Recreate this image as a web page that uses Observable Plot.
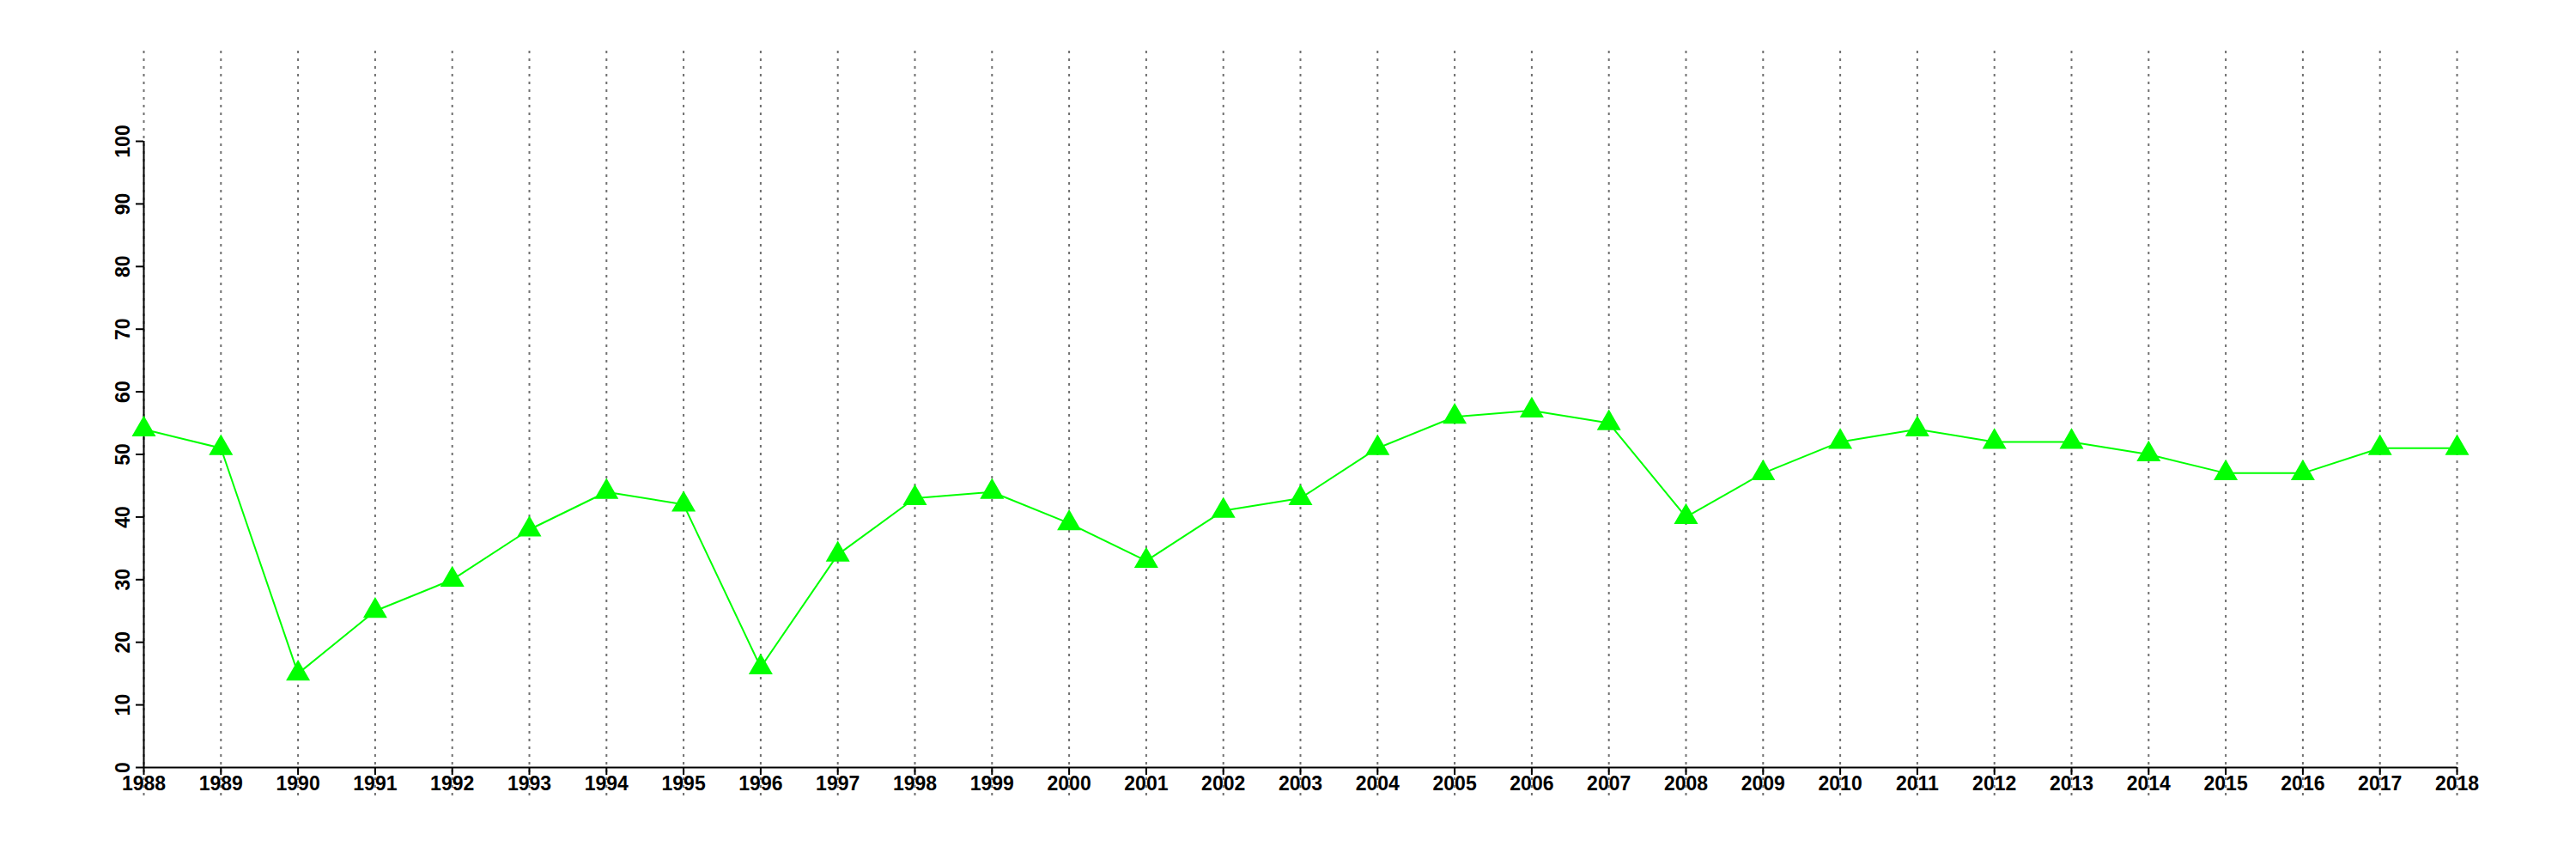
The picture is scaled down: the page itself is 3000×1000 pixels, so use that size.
<!DOCTYPE html>
<html>
<head>
<meta charset="utf-8">
<script src="https://cdn.jsdelivr.net/npm/d3@7"></script>
<script src="https://cdn.jsdelivr.net/npm/@observablehq/plot@0.6"></script>
<style>
  html, body { margin: 0; padding: 0; background: #fff; }
  #chart svg { display: block; }
</style>
</head>
<body>
<div id="chart"></div>
<script>
const years = [1988, 1989, 1990, 1991, 1992, 1993, 1994, 1995, 1996, 1997,
               1998, 1999, 2000, 2001, 2002, 2003, 2004, 2005, 2006, 2007,
               2008, 2009, 2010, 2011, 2012, 2013, 2014, 2015, 2016, 2017, 2018];
const values = [54, 51, 15, 25, 30, 38, 44, 42, 16, 34,
                43, 44, 39, 33, 41, 43, 51, 56, 57, 55,
                40, 47, 52, 54, 52, 52, 50, 47, 47, 51, 51];
const yTicks = [0, 10, 20, 30, 40, 50, 60, 70, 80, 90, 100];

const data = years.map((year, i) => ({year, value: values[i]}));
const font = "'Liberation Sans', Arial, Helvetica, sans-serif";

const chart = Plot.plot({
  width: 3000,
  height: 1000,
  marginLeft: 167,
  marginRight: 139,
  marginTop: 164,
  marginBottom: 107,
  style: {background: "white", fontFamily: font, overflow: "visible"},
  x: {domain: [years[0], years[years.length - 1]], axis: null},
  y: {domain: [0, 100], axis: null},
  marks: [
    // vertical dotted gridlines
    Plot.ruleX(years, {stroke: "#707070", strokeWidth: 2, strokeDasharray: "3,6",
                       insetTop: -105, insetBottom: -34}),
    // axis lines
    Plot.ruleY([0], {x1: years[0], x2: years[years.length - 1], stroke: "black", strokeWidth: 2}),
    Plot.ruleX([years[0]], {y1: yTicks[0], y2: yTicks[yTicks.length - 1], stroke: "black", strokeWidth: 2}),
    // x axis ticks and labels
    Plot.axisX({ticks: years, tickFormat: d => String(d), tickSize: 9, tickPadding: 1, label: null,
                fontSize: 23, fontWeight: "bold", fill: "black", stroke: "black", strokeWidth: 2}),
    // y axis ticks
    Plot.axisY({ticks: yTicks, tickFormat: () => "", tickSize: 9, label: null,
                stroke: "black", strokeWidth: 2}),
    // y labels rotated
    Plot.text(yTicks, {x: years[0], y: d => d, text: d => String(d), rotate: -90, dx: -24,
                       fontSize: 23, fontWeight: "bold", fill: "black"}),
    // series
    Plot.line(data, {x: "year", y: "value", stroke: "#00ff00", strokeWidth: 2}),
    Plot.dot(data, {x: "year", y: "value", symbol: "triangle", r: 10.4, fill: "#00ff00", stroke: "none"})
  ]
});
document.getElementById("chart").appendChild(chart);
</script>
</body>
</html>
